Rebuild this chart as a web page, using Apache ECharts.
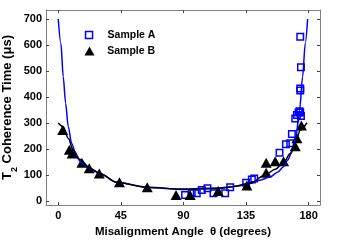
<!DOCTYPE html>
<html>
<head>
<meta charset="utf-8">
<script src="https://cdn.jsdelivr.net/npm/echarts@6/dist/echarts.min.js"></script>
<style>
html,body{margin:0;padding:0;background:#fff;}
#chart{width:353px;height:240px;}
</style>
</head>
<body>
<div id="chart"></div>
<script>
// Tick labels
var xTicks = [0, 45, 90, 135, 180];
var yTicks = [0, 100, 200, 300, 400, 500, 600, 700];

// Sample A (open blue squares): [angle (deg), T2 (us)]
var sampleA = [
  [91.2, 23], [96, 30], [99.6, 30], [103.2, 42], [107.3, 49], [111.6, 30],
  [120, 30], [123.6, 53], [135.1, 70], [139.2, 83], [140.9, 87],
  [159.1, 186], [163.7, 218], [166.8, 222], [168, 258], [170.4, 317],
  [171.6, 331], [172.8, 340], [174, 340], [174.5, 327], [173.5, 345],
  [174, 433], [174, 425], [174.5, 514], [174, 632]
];

// Sample B (filled black triangles)
var sampleB = [
  [3.2, 273], [8, 197], [10, 183], [17, 147], [22.3, 126], [29.5, 106],
  [44, 72], [64, 53], [84.7, 23], [94.8, 23], [115, 38], [135.6, 60],
  [149.5, 109], [149.5, 147], [156, 153], [162, 153], [170.4, 211],
  [171.6, 241], [174.8, 290]
];

// Fit curves
var fitA = [
  [0, 700], [1.9, 606], [3.6, 478], [5.3, 376], [7.2, 286], [9.6, 222],
  [13.2, 168], [17, 145], [22.8, 124], [30, 105], [42, 72], [64, 52],
  [90, 44], [115, 48], [130, 58], [138, 68], [145, 80], [152.4, 93],
  [158, 112], [162, 132], [165, 158], [167.5, 183], [170.9, 247],
  [173.5, 350], [175.7, 478], [177.6, 606], [179.3, 700]
];
var fitB = [
  [0, 300], [3.6, 286], [7.2, 241], [10.8, 196], [15.6, 160], [22.8, 126],
  [30, 106], [42, 72], [64, 53], [90, 46], [115, 50], [123.5, 54],
  [138, 68], [149.5, 103], [156, 122], [162, 147], [166.8, 183],
  [170.4, 222], [174, 273], [178.8, 301]
];

var BLUE = '#0000ff';
var FRAME = '#808080';
var FONT = 'Liberation Sans, Arial, Helvetica, sans-serif';

var chart = echarts.init(document.getElementById('chart'), null, {renderer: 'canvas'});

var labelStyle = {color: '#000', fontWeight: 'bold', fontSize: 11, fontFamily: FONT};

chart.setOption({
  animation: false,
  backgroundColor: '#fff',
  grid: {left: 46, right: 33, top: 10, bottom: 35, containLabel: false, outerBoundsMode: 'none'},
  legend: [
    {
      data: ['Sample A'], orient: 'vertical', left: 84.8, top: 29.5, padding: 0,
      itemWidth: 7, itemHeight: 7, icon: 'rect',
      itemStyle: {color: '#fff', borderColor: BLUE, borderWidth: 1.5, opacity: 1},
      textStyle: {color: '#000', fontWeight: 'bold', fontSize: 10.5, fontFamily: FONT, padding: [0, 0, 0, 10]}
    },
    {
      data: ['Sample B'], orient: 'vertical', left: 84.5, top: 45.5, padding: 0,
      itemWidth: 10, itemHeight: 9, icon: 'triangle',
      itemStyle: {color: '#000', opacity: 1},
      textStyle: {color: '#000', fontWeight: 'bold', fontSize: 10.5, fontFamily: FONT, padding: [0, 0, 0, 7.7]}
    }
  ],
  xAxis: [
    {
      type: 'value', position: 'bottom', min: -8.8, max: 188.2,
      axisLine: {show: true, onZero: false, lineStyle: {color: FRAME, width: 1}},
      axisTick: {show: true, inside: true, length: 3, customValues: xTicks, lineStyle: {color: '#444'}},
      axisLabel: Object.assign({customValues: xTicks, margin: 5}, labelStyle),
      splitLine: {show: false},
      name: 'Misalignment Angle  \u03b8 (degrees)',
      nameLocation: 'middle', nameGap: 17,
      nameTextStyle: {color: '#000', fontWeight: 'bold', fontSize: 11.5, fontFamily: FONT}
    },
    {
      type: 'value', position: 'top', min: -8.8, max: 188.2,
      axisLine: {show: true, onZero: false, lineStyle: {color: FRAME, width: 1}},
      axisTick: {show: true, inside: true, length: 3, customValues: xTicks, lineStyle: {color: '#444'}},
      axisLabel: {show: false},
      splitLine: {show: false}
    }
  ],
  yAxis: [
    {
      type: 'value', position: 'left', min: -15.4, max: 734.6,
      axisLine: {show: true, onZero: false, lineStyle: {color: FRAME, width: 1}},
      axisTick: {show: true, inside: true, length: 3, customValues: yTicks, lineStyle: {color: '#444'}},
      axisLabel: Object.assign({customValues: yTicks, margin: 4}, labelStyle),
      splitLine: {show: false},
      name: '{a|T}{sub|2}{a| Coherence Time (\u03bcs)}',
      nameLocation: 'middle', nameGap: 27, nameRotate: 90, nameMoveOverlap: false,
      nameTextStyle: {
        color: '#000', fontWeight: 'bold', fontSize: 13, fontFamily: FONT,
        rich: {
          a: {color: '#000', fontWeight: 'bold', fontSize: 13, fontFamily: FONT, lineHeight: 15, verticalAlign: 'top'},
          sub: {color: '#000', fontWeight: 'bold', fontSize: 9, fontFamily: FONT, lineHeight: 18, verticalAlign: 'bottom'}
        }
      }
    },
    {
      type: 'value', position: 'right', min: -15.4, max: 734.6,
      axisLine: {show: true, onZero: false, lineStyle: {color: FRAME, width: 1}},
      axisTick: {show: true, inside: true, length: 3, customValues: yTicks, lineStyle: {color: '#444'}},
      axisLabel: {show: false},
      splitLine: {show: false}
    }
  ],
  series: [
    {
      name: 'Sample A', type: 'scatter', data: sampleA,
      symbol: 'rect', symbolSize: 6.5,
      itemStyle: {color: 'rgba(255,255,255,0)', borderColor: BLUE, borderWidth: 1.5, opacity: 1},
      z: 2
    },
    {
      name: 'Sample B', type: 'scatter', data: sampleB,
      symbol: 'triangle', symbolSize: [11, 10],
      itemStyle: {color: '#000', opacity: 1},
      z: 3
    },
    {
      name: 'fitA', type: 'line', data: fitA, showSymbol: false, symbol: 'none',
      smooth: 0.3, smoothMonotone: 'x',
      lineStyle: {color: BLUE, width: 1.5}, z: 4, silent: true
    },
    {
      name: 'fitB', type: 'line', data: fitB, showSymbol: false, symbol: 'none',
      smooth: 0.3, smoothMonotone: 'x',
      lineStyle: {color: '#000', width: 1.5}, z: 5, silent: true
    }
  ]
});
</script>
</body>
</html>
